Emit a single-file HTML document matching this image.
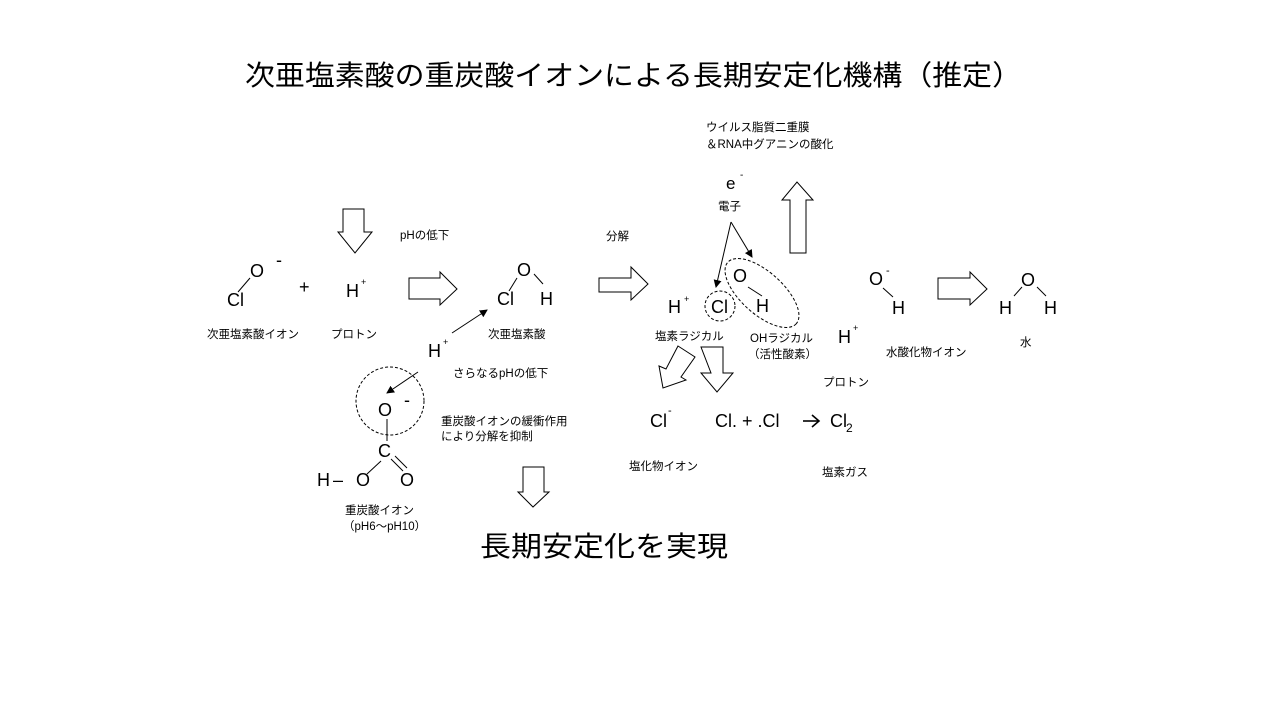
<!DOCTYPE html>
<html><head><meta charset="utf-8"><style>
html,body{margin:0;padding:0;background:#fff;}
svg{display:block}
text{font-family:"Liberation Sans","Noto Sans CJK JP",sans-serif;fill:#000}
.j{font-size:11.5px}
.c{font-size:18px}
</style></head><body>
<svg width="1280" height="720" viewBox="0 0 1280 720" xmlns="http://www.w3.org/2000/svg">
<defs><marker id="ah" markerWidth="8" markerHeight="8" refX="7" refY="4" orient="auto" markerUnits="userSpaceOnUse"><path d="M0,0 L8,4 L0,8 z" fill="#000"/></marker></defs>
<text x="245" y="85" font-size="28" textLength="777" lengthAdjust="spacingAndGlyphs">次亜塩素酸の重炭酸イオンによる長期安定化機構（推定）</text>

<g fill="#fff" stroke="#000" stroke-width="1">
<path d="M343,209 H364 V232 H372 L355,253 L338,232 H343 Z"/>
<path d="M409,278 H440 V272 L457,289 L440,305 V299 H409 Z"/>
<path d="M599,278 H631 V267 L648,284 L631,300 V292 H599 Z"/>
<path d="M938,278 H970 V272 L987,289 L970,305 V299 H938 Z"/>
<path d="M790,253 V200 H782 L797,182 L813,200 H806 V253 Z"/>
<path d="M678,346 L695,357 L681,377 L686,380 L663,388 L659,366 L666,369 Z"/>
<path d="M523,467 H544 V492 H549 L533,507 L518,492 H523 Z"/>
<path d="M701,347 H723 V373 H733 L717,392 L701,373 H711 Z"/>
</g>

<text class="c" x="250" y="277">O</text><text class="c" x="276" y="266">-</text>
<text class="c" x="227" y="306">Cl</text>
<line x1="238" y1="292" x2="250" y2="278" stroke="#000"/>
<text class="c" x="299" y="293">+</text>
<text class="c" x="346" y="297">H</text><text x="361" y="285" font-size="9">+</text>
<text class="c" x="517" y="276">O</text>
<text class="c" x="497" y="305">Cl</text><text class="c" x="540" y="305">H</text>
<line x1="509" y1="291" x2="517" y2="278" stroke="#000"/>
<line x1="534" y1="274" x2="543" y2="284" stroke="#000"/>
<text class="j" x="207" y="338">次亜塩素酸イオン</text>
<text class="j" x="331" y="338">プロトン</text>
<text class="j" x="400" y="239">pHの低下</text>
<text class="j" x="488" y="338">次亜塩素酸</text>
<text class="c" x="428" y="357">H</text><text x="443" y="345" font-size="9">+</text>
<line x1="452" y1="333" x2="487" y2="310" stroke="#000" marker-end="url(#ah)"/>
<line x1="418" y1="372" x2="387" y2="393" stroke="#000" marker-end="url(#ah)"/>
<text class="j" x="453" y="377">さらなるpHの低下</text>
<circle cx="390" cy="401" r="34" fill="none" stroke="#000" stroke-dasharray="3,2"/>
<text class="c" x="378" y="416">O</text><text class="c" x="404" y="406">-</text>
<line x1="387" y1="419" x2="387" y2="441" stroke="#000"/>
<text class="c" x="378" y="457">C</text>
<line x1="381" y1="461" x2="367" y2="474" stroke="#000"/>
<line x1="391" y1="459" x2="403" y2="471" stroke="#000"/>
<line x1="395" y1="456" x2="407" y2="468" stroke="#000"/>
<text class="c" x="317" y="486">H</text><text class="c" x="333" y="486">–</text>
<text class="c" x="356" y="486">O</text><text class="c" x="400" y="486">O</text>
<text class="j" x="441" y="425">重炭酸イオンの緩衝作用</text>
<text class="j" x="441" y="440">により分解を抑制</text>
<text class="j" x="345" y="514">重炭酸イオン</text>
<text class="j" x="343" y="530">（pH6〜pH10）</text>
<text x="480" y="556" font-size="28" textLength="248" lengthAdjust="spacingAndGlyphs">長期安定化を実現</text>

<text class="j" x="606" y="240">分解</text>
<text class="j" x="706" y="131">ウイルス脂質二重膜</text>
<text class="j" x="706" y="148">＆RNA中グアニンの酸化</text>
<text x="726" y="189" font-size="17">e</text><text x="740" y="178" font-size="10">-</text>
<text class="j" x="718" y="210">電子</text>
<line x1="731" y1="222" x2="716" y2="287" stroke="#000" marker-end="url(#ah)"/>
<line x1="731" y1="222" x2="752" y2="257" stroke="#000" marker-end="url(#ah)"/>
<text class="c" x="733" y="282">O</text>
<text class="c" x="756" y="312">H</text>
<line x1="748" y1="287" x2="762" y2="296" stroke="#000"/>
<ellipse cx="762" cy="293" rx="46" ry="21" transform="rotate(42 762 293)" fill="none" stroke="#000" stroke-dasharray="3,2"/>
<circle cx="720" cy="306" r="15" fill="none" stroke="#000" stroke-dasharray="3,2"/>
<text class="c" x="711" y="313">Cl</text>
<text class="c" x="668" y="313">H</text><text x="684" y="302" font-size="9">+</text>
<text class="j" x="655" y="340">塩素ラジカル</text>
<text class="j" x="750" y="342">OHラジカル</text>
<text class="j" x="748" y="358">（活性酸素）</text>
<text class="c" x="838" y="343">H</text><text x="853" y="331" font-size="9">+</text>
<text class="j" x="823" y="386">プロトン</text>
<text class="c" x="650" y="427">Cl</text><text x="668" y="414" font-size="11">-</text>
<text class="c" x="715" y="427">Cl. + .Cl</text>
<line x1="803" y1="421" x2="818" y2="421" stroke="#000" stroke-width="1.6"/>
<polyline points="812,415 819,421 812,427" fill="none" stroke="#000" stroke-width="1.6"/>
<text class="c" x="830" y="427">Cl</text><text x="846" y="432" font-size="12">2</text>
<text class="j" x="629" y="470">塩化物イオン</text>
<text class="j" x="822" y="476">塩素ガス</text>
<text class="c" x="869" y="285">O</text><text x="886" y="274" font-size="11">-</text>
<text class="c" x="892" y="314">H</text>
<line x1="883" y1="288" x2="893" y2="297" stroke="#000"/>
<text class="j" x="886" y="356">水酸化物イオン</text>
<text class="c" x="1021" y="286">O</text>
<text class="c" x="999" y="314">H</text><text class="c" x="1044" y="314">H</text>
<line x1="1014" y1="296" x2="1022" y2="287" stroke="#000"/>
<line x1="1037" y1="287" x2="1046" y2="296" stroke="#000"/>
<text class="j" x="1020" y="346">水</text>
</svg>
</body></html>
